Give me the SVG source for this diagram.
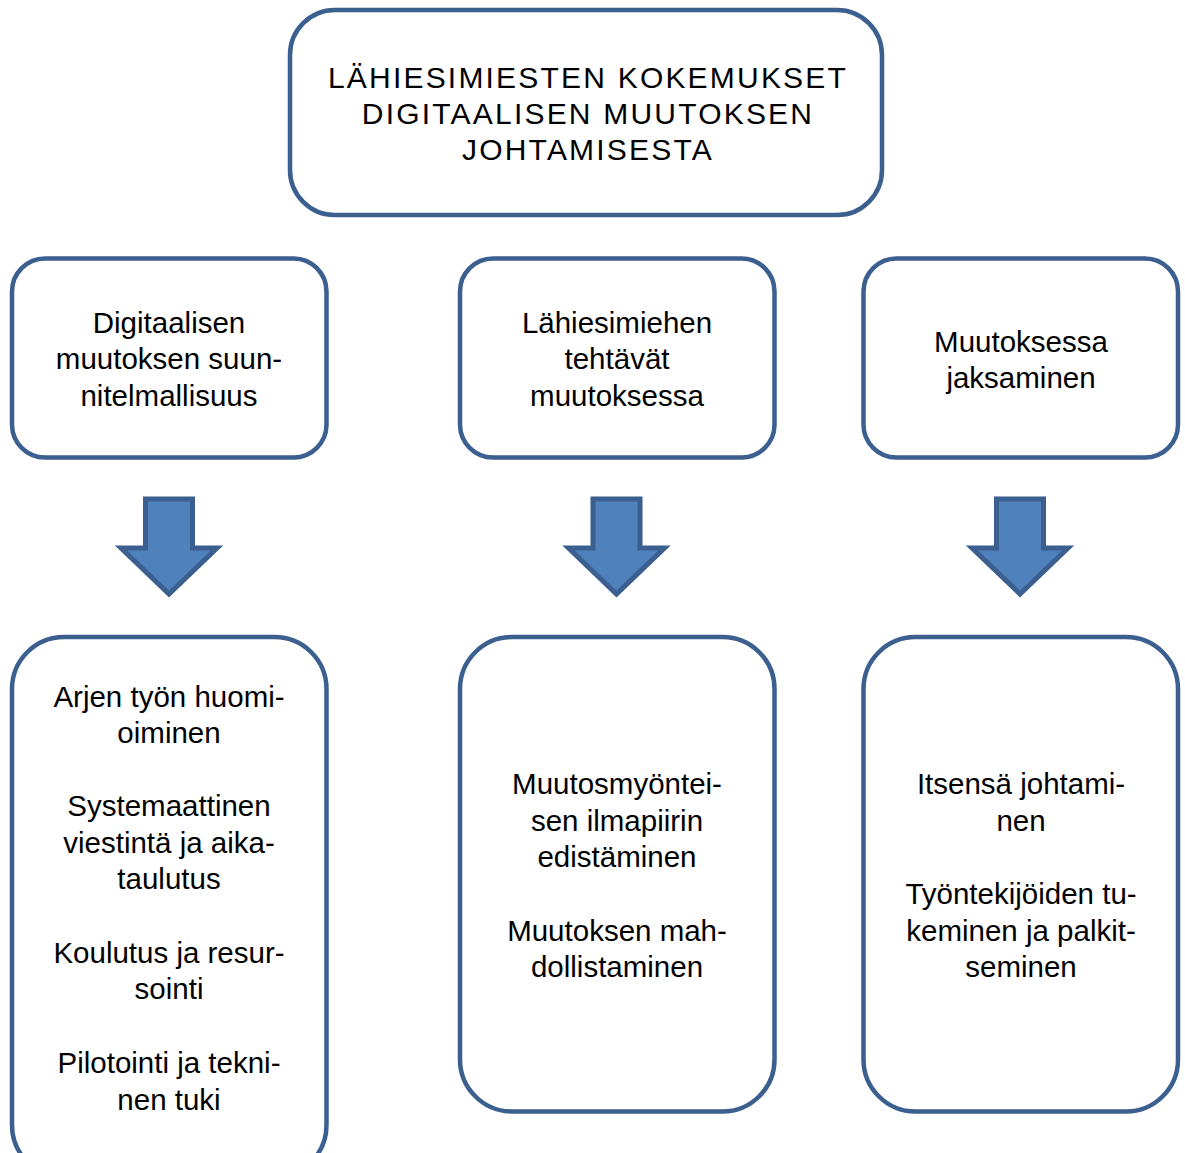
<svg xmlns="http://www.w3.org/2000/svg" width="1185" height="1153" viewBox="0 0 1185 1153">
<style>
.box{fill:#ffffff;stroke:#3b5f8f;stroke-width:4.5}
.arrow{fill:#4f81bd;stroke:#3b5f8f;stroke-width:5;stroke-linejoin:miter}
text{font-family:"Liberation Sans",Arial,sans-serif;font-size:29.5px;fill:#000;text-anchor:middle}
.title{font-size:30px;letter-spacing:2.2px}
</style>
<rect width="1185" height="1153" fill="#ffffff"/>
<g id="title">
<rect class="box" x="290" y="10" width="592" height="205" rx="45" ry="45"/>
<text class="title" x="588" y="88">LÄHIESIMIESTEN KOKEMUKSET</text>
<text class="title" x="588" y="124">DIGITAALISEN MUUTOKSEN</text>
<text class="title" x="588" y="160">JOHTAMISESTA</text>
</g>
<g id="theme1">
<rect class="box" x="12" y="258.5" width="314.5" height="199" rx="33" ry="33"/>
<text x="169" y="333">Digitaalisen</text>
<text x="169" y="369">muutoksen suun-</text>
<text x="169" y="406">nitelmallisuus</text>
</g>
<g id="theme2">
<rect class="box" x="460" y="258.5" width="314.5" height="199" rx="33" ry="33"/>
<text x="617" y="333">Lähiesimiehen</text>
<text x="617" y="369">tehtävät</text>
<text x="617" y="406">muutoksessa</text>
</g>
<g id="theme3">
<rect class="box" x="863.5" y="258.5" width="314.5" height="199" rx="33" ry="33"/>
<text x="1021" y="352">Muutoksessa</text>
<text x="1021" y="388">jaksaminen</text>
</g>
<g id="connectors">
<path class="arrow" d="M145.5,499 H192.5 V548 H217 L169,594 L121,548 H145.5 Z"/>
<path class="arrow" d="M593,499 H640 V548 H664.5 L616.5,594 L568.5,548 H593 Z"/>
<path class="arrow" d="M996.5,499 H1043.5 V548 H1068 L1020,594 L972,548 H996.5 Z"/>
</g>
<g id="detail1">
<rect class="box" x="12" y="637" width="314.5" height="540" rx="52" ry="52"/>
<text x="169" y="707">Arjen työn huomi-</text>
<text x="169" y="743">oiminen</text>
<text x="169" y="816">Systemaattinen</text>
<text x="169" y="853">viestintä ja aika-</text>
<text x="169" y="889">taulutus</text>
<text x="169" y="963">Koulutus ja resur-</text>
<text x="169" y="999">sointi</text>
<text x="169" y="1073">Pilotointi ja tekni-</text>
<text x="169" y="1110">nen tuki</text>
</g>
<g id="detail2">
<rect class="box" x="460" y="637" width="314.5" height="474.5" rx="52" ry="52"/>
<text x="617" y="794">Muutosmyöntei-</text>
<text x="617" y="831">sen ilmapiirin</text>
<text x="617" y="867">edistäminen</text>
<text x="617" y="941">Muutoksen mah-</text>
<text x="617" y="977">dollistaminen</text>
</g>
<g id="detail3">
<rect class="box" x="863.5" y="637" width="314.5" height="474.5" rx="52" ry="52"/>
<text x="1021" y="794">Itsensä johtami-</text>
<text x="1021" y="831">nen</text>
<text x="1021" y="904">Työntekijöiden tu-</text>
<text x="1021" y="941">keminen ja palkit-</text>
<text x="1021" y="977">seminen</text>
</g>
</svg>
